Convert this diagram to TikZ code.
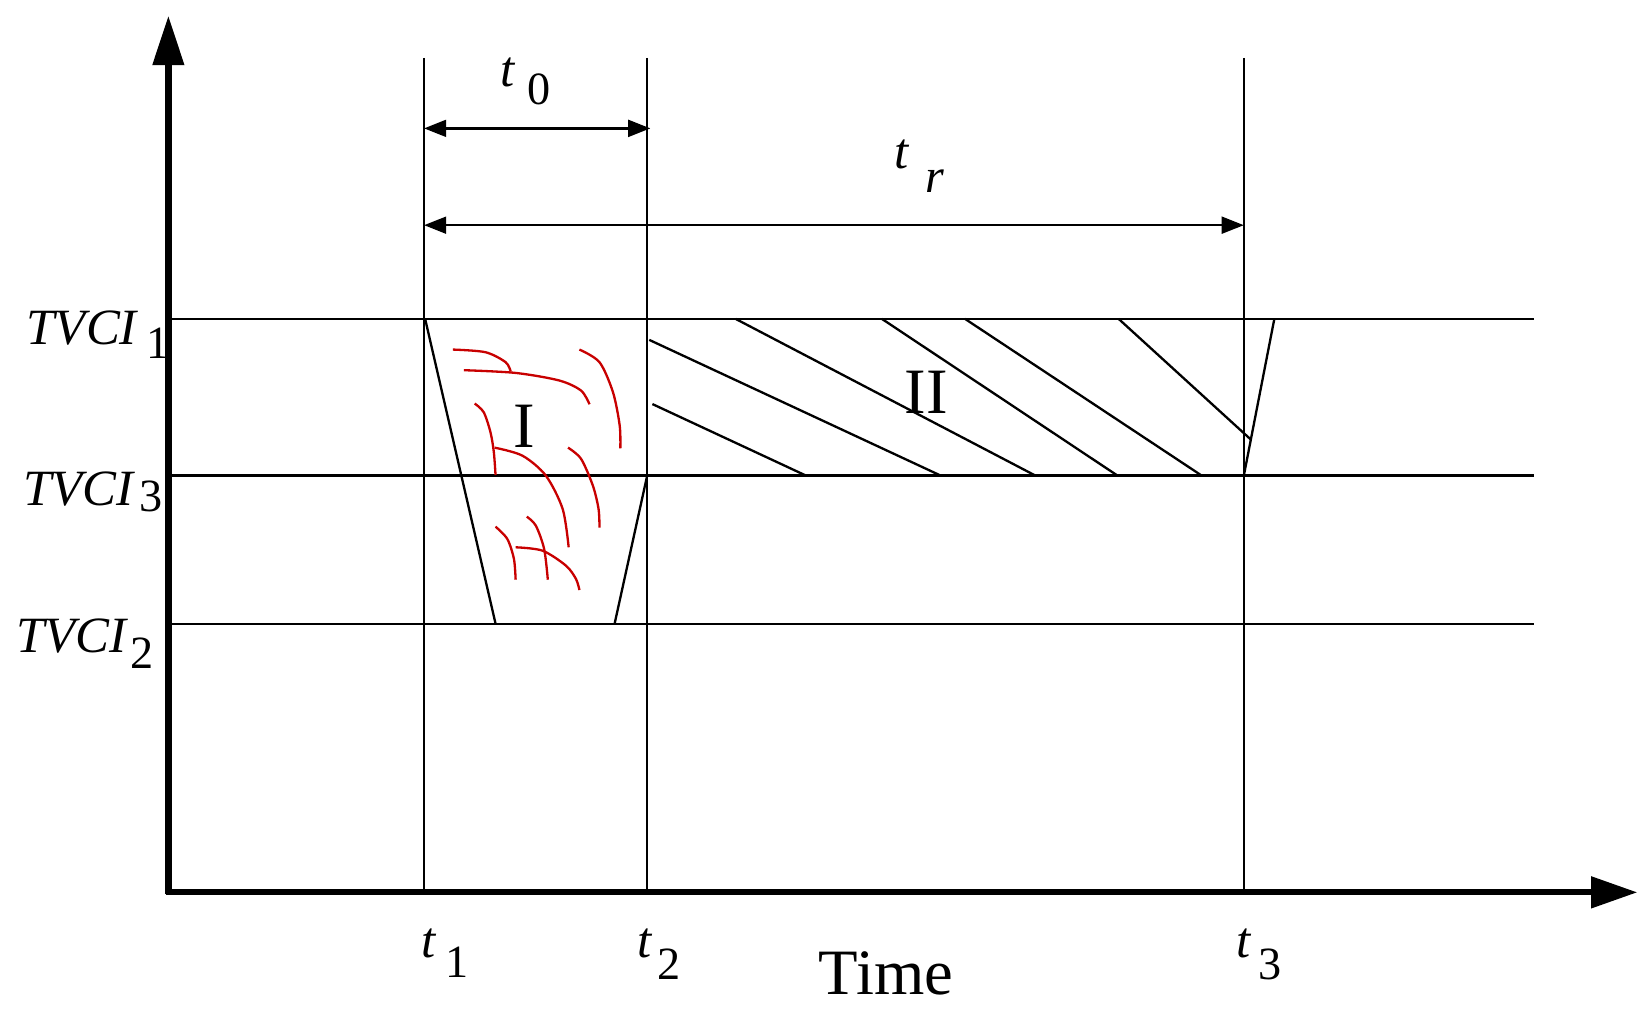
\documentclass[tikz,border=0pt]{standalone}
\usepackage{fontspec}
\setmainfont{Liberation Serif}
\usetikzlibrary{arrows.meta}
\definecolor{arcred}{RGB}{200,0,0}
\begin{document}
\begin{tikzpicture}[x=0.02cm,y=-0.02cm,
  thinline/.style={line width=1.25pt},
  axisline/.style={line width=3.4pt},
  lbl/.style={inner sep=0pt, anchor=base west, font=\fontsize{27.5}{30}\selectfont\itshape},
  subl/.style={inner sep=0pt, anchor=base west, font=\fontsize{25}{28}\selectfont},
  romanl/.style={inner sep=0pt, anchor=base, font=\fontsize{35}{38}\selectfont},
  dimline/.style={line width=1.25pt, {Triangle[length=0.42cm,width=0.32cm]}-{Triangle[length=0.42cm,width=0.32cm]}},
  arcline/.style={arcred, line width=1.25pt}]
\useasboundingbox (0,0) rectangle (1568,972);

% axes
\coordinate (O) at (160,848);
\coordinate (Ox) at (158,848);
\coordinate (Oy) at (160,850);
\coordinate (ytop) at (160,15);
\coordinate (xend) at (1556,848);
\draw[axisline,-{Triangle[length=0.94cm,width=0.58cm]}] (Oy) -- (ytop);
\draw[axisline,-{Triangle[length=0.88cm,width=0.58cm]}] (Ox) -- (xend);

% vertical time lines
\coordinate (t1top) at (403,55);  \coordinate (t1bot) at (403,848);
\coordinate (t2top) at (615,55);  \coordinate (t2bot) at (615,848);
\coordinate (t3top) at (1182,55); \coordinate (t3bot) at (1182,848);
\draw[thinline] (t1top) -- (t1bot);
\draw[thinline] (t2top) -- (t2bot);
\draw[thinline] (t3top) -- (t3bot);

% horizontal TVCI lines
\coordinate (h1a) at (160,303); \coordinate (h1b) at (1458,303);
\coordinate (h3a) at (160,452); \coordinate (h3b) at (1458,452);
\coordinate (h2a) at (160,593); \coordinate (h2b) at (1458,593);
\draw[thinline] (h1a) -- (h1b);
\draw[thinline] (h3a) -- (h3b);
\draw[thinline] (h2a) -- (h2b);

% dimension arrows
\coordinate (d0a) at (403,122); \coordinate (d0b) at (618,122);
\coordinate (dra) at (403,214); \coordinate (drb) at (1182,214);
\draw[dimline] (d0a) -- (d0b);
\draw[dimline] (dra) -- (drb);

% region I boundaries
\draw[thinline] (404,303) -- (471,593);
\draw[thinline] (584,593) -- (615,452);

% region II hatching
\draw[thinline] (620,384) -- (766,452);
\draw[thinline] (617,323) -- (894,452);
\draw[thinline] (699,303) -- (984,452);
\draw[thinline] (838,303) -- (1062,452);
\draw[thinline] (917,303) -- (1142,452);
\draw[thinline] (1063,303) -- (1189,418);
\draw[thinline] (1211,303) -- (1182,452);

% red arcs in region I
\draw[arcline] plot[smooth] coordinates {(430.4,332.2) (461.3,334.7) (480.5,344.2) (485.3,353.1)};
\draw[arcline] plot[smooth] coordinates {(440.9,351.8) (490.0,354.4) (531.5,361.6) (552.2,371.2) (560.2,384.2)};
\draw[arcline] plot[smooth] coordinates {(550.6,332.2) (569.7,344.2) (582.5,372.7) (588.9,404.4) (589.5,426.0)};
\draw[arcline] plot[smooth] coordinates {(451.1,383.5) (459.7,391.8) (466.1,410.8) (469.3,429.8) (470.9,451.4)};
\draw[arcline] plot[smooth] coordinates {(470.0,425.4) (496.4,433.0) (518.7,452.0) (534.7,483.7) (540.4,520.1)};
\draw[arcline] plot[smooth] coordinates {(539.8,425.4) (552.2,436.1) (563.4,461.5) (568.8,483.7) (569.7,501.4)};
\draw[arcline] plot[smooth] coordinates {(470.9,500.5) (482.1,512.2) (488.4,531.2) (490.0,550.9)};
\draw[arcline] plot[smooth] coordinates {(500.6,491.0) (509.2,499.5) (517.1,521.7) (520.6,550.9)};
\draw[arcline] plot[smooth] coordinates {(490.0,520.1) (515.5,523.3) (537.9,537.6) (547.4,550.3) (550.6,560.7)};

% region labels
\node[romanl] (regI) at (498,425) {I};
\node[romanl] (regII) at (880,393) {II};

% TVCI labels
\node[lbl] (tv1) at (25,327) {TVCI};
\node[subl] (tv1s) at (139,341) {1};
\node[lbl] (tv3) at (22,480) {TVCI};
\node[subl] (tv3s) at (132,486) {3};
\node[lbl] (tv2) at (15,620) {TVCI};
\node[subl] (tv2s) at (124,635) {2};

% time labels
\node[lbl] (l0) at (475,82) {t};
\node[subl] (l0s) at (501,99) {0};
\node[lbl] (lr) at (850,160) {t};
\node[lbl,font=\fontsize{26}{28}\selectfont\itshape] (lrs) at (879,183) {r};
\node[lbl] (l1) at (400,910) {t};
\node[subl] (l1s) at (423,929) {1};
\node[lbl] (l2) at (605,910) {t};
\node[subl] (l2s) at (624,931) {2};
\node[lbl] (l3) at (1175,910) {t};
\node[subl] (l3s) at (1196,931) {3};
\node[romanl] (timel) at (842,945) {Time};
\end{tikzpicture}
\end{document}
